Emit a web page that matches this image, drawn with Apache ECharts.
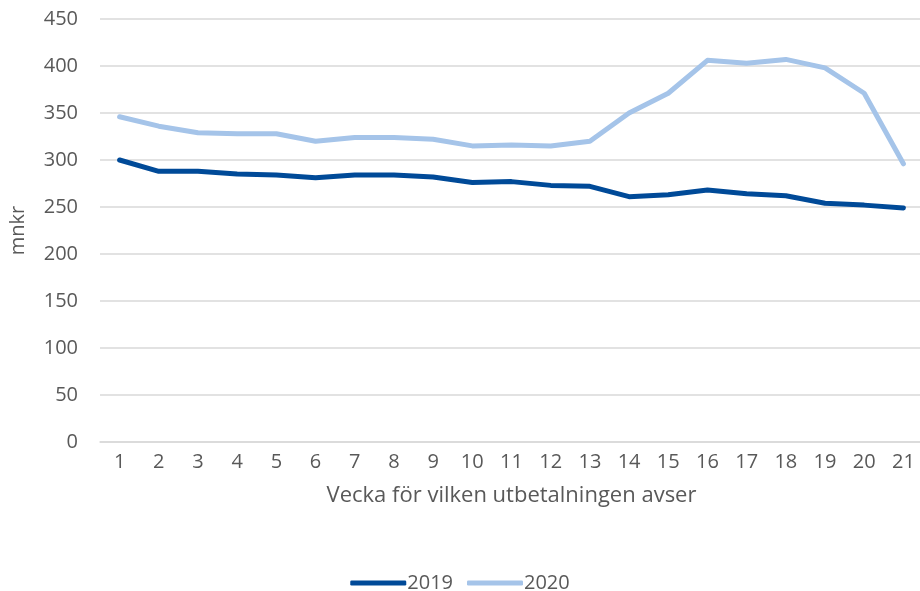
<!DOCTYPE html>
<html>
<head>
<meta charset="utf-8">
<script src="https://cdn.jsdelivr.net/npm/echarts@6/dist/echarts.min.js"></script>
<style>
  html, body { margin: 0; padding: 0; background: #fff; }
  #chart { width: 920px; height: 591px; }
</style>
</head>
<body>
<div id="chart"></div>
<script>
// veckor 1-21
const weeks = ['1','2','3','4','5','6','7','8','9','10','11','12','13','14','15','16','17','18','19','20','21'];
const y2019 = [300, 288, 288, 285, 284, 281, 284, 284, 282, 276, 277, 273, 272, 261, 263, 268, 264, 262, 254, 252, 249];
const y2020 = [346, 336, 329, 328, 328, 320, 324, 324, 322, 315, 316, 315, 320, 350, 371, 406, 403, 407, 398, 371, 296];

const textColor = '#595959';
const font = 'Open Sans';

const chart = echarts.init(document.getElementById('chart'));
chart.setOption({
  animation: false,
  grid: { left: 100, top: 19, width: 823, height: 423, outerBoundsMode: 'none', containLabel: false },
  legend: {
    left: 'center',
    top: 568,
    icon: 'roundRect',
    itemWidth: 56,
    itemHeight: 5,
    itemGap: 14,
    textStyle: { color: textColor, fontSize: 20, fontFamily: font, padding: [0, 0, 0, -4] },
    data: ['2019', '2020']
  },
  xAxis: {
    type: 'category',
    data: weeks,
    name: 'Vecka för vilken utbetalningen avser',
    nameLocation: 'middle',
    nameGap: 43,
    nameTextStyle: { color: textColor, fontSize: 22, fontFamily: font },
    axisLine: { show: true, lineStyle: { color: '#d9d9d9', width: 1.5 } },
    axisTick: { show: false },
    axisLabel: { color: textColor, fontSize: 20, fontFamily: font, margin: 10 }
  },
  yAxis: {
    type: 'value',
    min: 0,
    max: 450,
    interval: 50,
    name: 'mnkr',
    nameLocation: 'middle',
    nameGap: 72,
    nameTextStyle: { color: textColor, fontSize: 20, fontFamily: font },
    axisLine: { show: false },
    axisTick: { show: false },
    axisLabel: { color: textColor, fontSize: 20, fontFamily: font, margin: 22 },
    splitLine: { lineStyle: { color: '#d9d9d9', width: 1.5 } }
  },
  series: [
    {
      name: '2019',
      type: 'line',
      data: y2019,
      symbol: 'none',
      lineStyle: { color: '#004a98', width: 5, cap: 'round', join: 'round' },
      itemStyle: { color: '#004a98' }
    },
    {
      name: '2020',
      type: 'line',
      data: y2020,
      symbol: 'none',
      lineStyle: { color: '#a5c4e9', width: 5, cap: 'round', join: 'round' },
      itemStyle: { color: '#a5c4e9' }
    }
  ]
});
</script>
</body>
</html>
